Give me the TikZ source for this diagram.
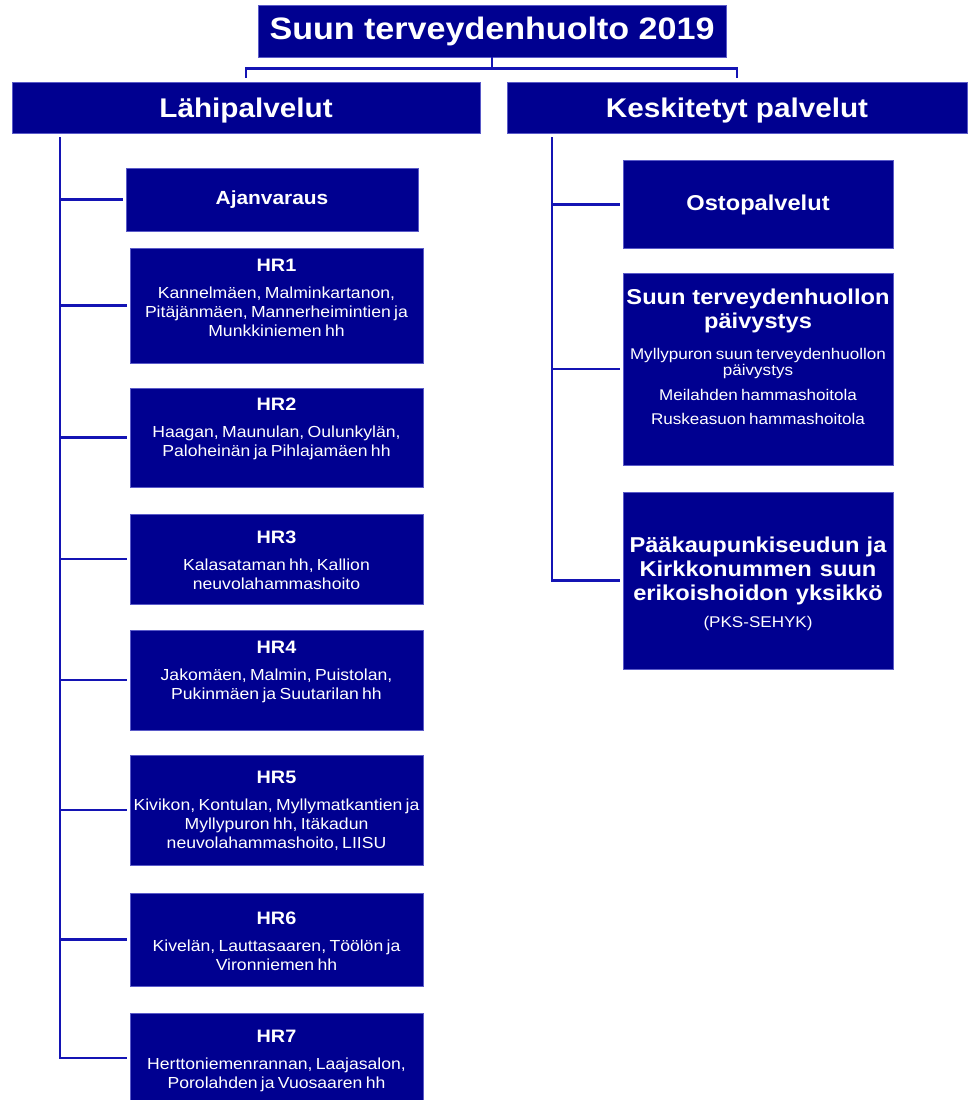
\documentclass[tikz,border=0pt]{standalone}
\usepackage{fontspec}
\setmainfont{Liberation Sans}[FakeStretch=1.1]
\usepackage{tikz}
\usetikzlibrary{calc}
\definecolor{nhblue}{HTML}{000090}
\definecolor{boxedge}{HTML}{5A5AC8}
\definecolor{wire}{HTML}{1414B4}
\newcommand{\ws}{\spaceskip=0.3em plus 0.1em minus 0.05em\relax}
\newcommand{\hdfont}{\fontsize{18}{21}\selectfont\bfseries\ws}
\newcommand{\bodyfont}{\fontsize{16}{19}\selectfont}
\newcommand{\rtfont}{\fontsize{21.5}{24}\selectfont\bfseries\ws}
\newcommand{\rbfont}{\fontsize{15.5}{16}\selectfont}
\tikzset{
  unit/.style={fill=nhblue, draw=boxedge, line width=0.7pt, inner sep=0pt, text=white, align=center},
  head/.style={unit, font=\fontsize{27}{30}\selectfont\bfseries\ws, minimum height=51pt, text height=19.5pt, text depth=0pt},
  txt/.style={text=white, align=center, inner sep=0pt, anchor=north},
  link/.style={draw=wire, line width=2.7pt},
}

\begin{document}
\begin{tikzpicture}[x=1pt, y=-1pt]
  \useasboundingbox (0,0) rectangle (968,1100);
  \newcommand{\hrbox}[6]{% name, top, bottom, heading y, heading, places
    \node[unit, minimum width=293pt, minimum height={(#3-#2)*1pt}] (#1) at (276.5,{(#2+#3)/2}) {};
    \node[txt, text width=300pt] (#1t) at (276.5,{#4-6.5}) {{\hdfont #5\par}\vspace{8pt}{\bodyfont #6\par}};}
  % top level
  \node[unit, minimum width=468pt, minimum height=52pt, font=\fontsize{31}{34}\selectfont\bfseries\ws] (top) at (492,31) {Suun terveydenhuolto 2019};
  \node[head, minimum width=468pt] (lahi) at (246,107.5) {Lähipalvelut};
  \node[head, minimum width=460pt] (kesk) at (737,107.5) {Keskitetyt palvelut};
  \draw[link] (top.south) -- ++(0,11) coordinate (split);
  \draw[link] ([yshift=4pt]lahi.north) |- (split) -| ([yshift=4pt]kesk.north);
  % left column
  \node[unit, minimum width=292pt, minimum height=63pt, font=\fontsize{19}{22}\selectfont\bfseries] (ajan) at (272,199.5) {Ajanvaraus};
  \hrbox{hr1}{248}{363}{265}{HR1}{Kannelmäen, Malminkartanon,\\ Pitäjänmäen, Mannerheimintien ja\\ Munkkiniemen hh}
  \hrbox{hr2}{388}{487}{404}{HR2}{Haagan, Maunulan, Oulunkylän,\\ Paloheinän ja Pihlajamäen hh}
  \hrbox{hr3}{514}{604}{537}{HR3}{Kalasataman hh, Kallion\\ neuvolahammashoito}
  \hrbox{hr4}{630}{730}{647}{HR4}{Jakomäen, Malmin, Puistolan,\\ Pukinmäen ja Suutarilan hh}
  \hrbox{hr5}{755}{865}{777}{HR5}{Kivikon, Kontulan, Myllymatkantien ja\\ Myllypuron hh, Itäkadun\\ neuvolahammashoito, LIISU}
  \hrbox{hr6}{893}{986}{918}{HR6}{Kivelän, Lauttasaaren, Töölön ja\\ Vironniemen hh}
  \hrbox{hr7}{1013}{1103}{1036}{HR7}{Herttoniemenrannan, Laajasalon,\\ Porolahden ja Vuosaaren hh}
  \coordinate (lspine) at (60,137);
  \draw[link] (lspine) |- ([xshift=-3pt]hr7.west);
  \foreach \b in {ajan,hr1,hr2,hr3,hr4,hr5,hr6}
    \draw[link] (\b.west -| lspine) -- ([xshift=-3pt]\b.west);
  % right column
  \node[unit, minimum width=270pt, minimum height=88pt, font=\rtfont] (osto) at (758,204.5) {Ostopalvelut};
  \node[unit, minimum width=270pt, minimum height=192pt] (paiv) at (758,369) {};
  \node[txt, text width=270pt] (paivt) at (758,288.5) {{\rtfont Suun terveydenhuollon\\ päivystys\par}\vspace{15pt}{\rbfont Myllypuron suun terveydenhuollon\\ päivystys\par}\vspace{9pt}{\rbfont Meilahden hammashoitola\par}\vspace{8pt}{\rbfont Ruskeasuon hammashoitola\par}};
  \node[unit, minimum width=270pt, minimum height=177pt] (pks) at (758,580.5) {};
  \node[txt, text width=270pt] (pkst) at (758,537) {{\rtfont Pääkaupunkiseudun ja\\ Kirkkonummen suun\\ erikoishoidon yksikkö\par}\vspace{11pt}{\rbfont (PKS-SEHYK)\par}};
  \coordinate (rspine) at (552,137);
  \draw[link] (rspine) |- ([xshift=-3pt]pks.west);
  \foreach \b in {osto,paiv}
    \draw[link] (\b.west -| rspine) -- ([xshift=-3pt]\b.west);
\end{tikzpicture}
\end{document}
